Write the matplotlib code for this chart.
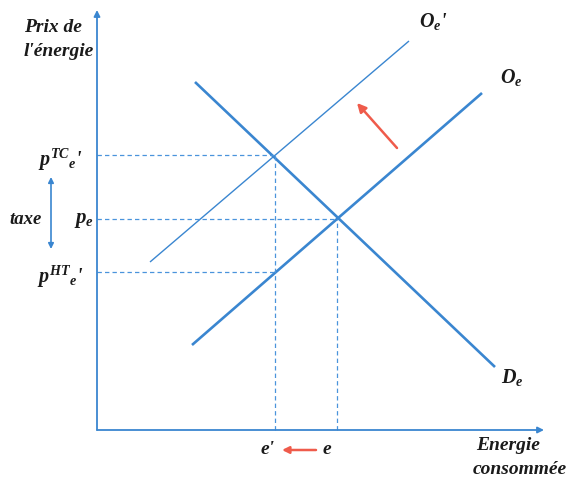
import matplotlib
matplotlib.use("Agg")
import matplotlib.pyplot as plt

plt.rcParams["mathtext.fontset"] = "custom"
plt.rcParams["mathtext.it"] = "Liberation Serif:italic:bold"
plt.rcParams["mathtext.rm"] = "Liberation Serif:bold"
plt.rcParams["mathtext.bf"] = "Liberation Serif:bold"

# coordinates in chart units, origin at the axes corner
demand_x = [98, 398]
demand_y = [348, 63]
supply_x = [95, 385]
supply_y = [85, 337]
supply_tax_x = [53, 312]
supply_tax_y = [168, 389]

e_eq, p_eq = 240, 211          # initial equilibrium (e, p_e)
e_tax = 178                    # e'
p_tc, p_ht = 275, 158          # p^TC_e', p^HT_e'

x_max, y_max = 447, 420

BLUE = "#3a86d0"
RED = "#ef5b4b"
FONT = dict(family="Liberation Serif", style="italic", weight="bold", color="#1a1a1a")

fig = plt.figure(figsize=(5.72, 4.83), dpi=100)
ax = fig.add_axes([0, 0, 1, 1])
ax.set_xlim(-97, 475)
ax.set_ylim(-53, 430)
ax.axis("off")

# axes with arrows
ax.annotate("", xy=(0, y_max), xytext=(0, 0),
            arrowprops=dict(arrowstyle="-|>", color=BLUE, lw=1.3, mutation_scale=9, shrinkA=0, shrinkB=0))
ax.annotate("", xy=(x_max, 0), xytext=(0, 0),
            arrowprops=dict(arrowstyle="-|>", color=BLUE, lw=1.3, mutation_scale=9, shrinkA=0, shrinkB=0))

# curves
ax.plot(demand_x, demand_y, color=BLUE, lw=1.9, solid_capstyle="butt")
ax.plot(supply_x, supply_y, color=BLUE, lw=1.9, solid_capstyle="butt")
ax.plot(supply_tax_x, supply_tax_y, color=BLUE, lw=1.0, solid_capstyle="butt")

# dashed guides
dash = dict(color="#4a94dc", lw=0.9, ls=(0, (3.5, 2.5)))
ax.plot([0, e_eq], [p_eq, p_eq], **dash)
ax.plot([e_eq, e_eq], [0, p_eq], **dash)
ax.plot([0, e_tax], [p_tc, p_tc], **dash)
ax.plot([0, e_tax], [p_ht, p_ht], **dash)
ax.plot([e_tax, e_tax], [0, p_tc], **dash)

# red shift arrows
ax.annotate("", xy=(260, 327), xytext=(300, 282),
            arrowprops=dict(arrowstyle="-|>", color=RED, lw=1.8, mutation_scale=13, shrinkA=0, shrinkB=0))
ax.annotate("", xy=(185, -20), xytext=(219, -20),
            arrowprops=dict(arrowstyle="-|>", color=RED, lw=1.8, mutation_scale=10, shrinkA=0, shrinkB=0))

# tax double arrow
ax.annotate("", xy=(-46, 181), xytext=(-46, 253),
            arrowprops=dict(arrowstyle="<|-|>", color=BLUE, lw=1.2, mutation_scale=8, shrinkA=0, shrinkB=0))

# labels
ax.text(-44, 402, "Prix de", ha="center", va="center", fontsize=14, **FONT)
ax.text(-38, 378, "l'énergie", ha="center", va="center", fontsize=14, **FONT)
ax.text(-37, 270, r"$p^{TC}{}_{e}$'", ha="center", va="center", fontsize=14.5, **FONT)
ax.text(-13, 210, r"$p_{e}$", ha="center", va="center", fontsize=15, **FONT)
ax.text(-37, 153, r"$p^{HT}{}_{e}$'", ha="center", va="center", fontsize=14.5, **FONT)
ax.text(-71, 211, "taxe", ha="center", va="center", fontsize=13.5, **FONT)
ax.text(e_tax - 7, -20, "e'", ha="center", va="center", fontsize=14, **FONT)
ax.text(e_eq - 10, -20, "e", ha="center", va="center", fontsize=14, **FONT)
ax.text(411, -15, "Energie", ha="center", va="center", fontsize=14, **FONT)
ax.text(423, -40, "consommée", ha="center", va="center", fontsize=14, **FONT)
ax.text(336, 408, r"$O_{e}$'", ha="center", va="center", fontsize=14.5, **FONT)
ax.text(414, 353, r"$O_{e}$", ha="center", va="center", fontsize=14.5, **FONT)
ax.text(415, 52, r"$D_{e}$", ha="center", va="center", fontsize=14.5, **FONT)

fig.savefig("out.png", dpi=100)
